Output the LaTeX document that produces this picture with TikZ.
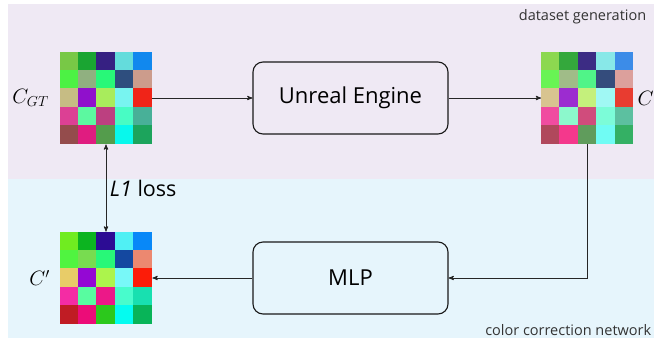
\documentclass[tikz,border=0pt]{standalone}
\usepackage{fontspec}
\setmainfont{Open Sans}
\usepackage{tikz}
\usetikzlibrary{arrows,positioning}

\definecolor{topbg}{HTML}{EFE9F4}
\definecolor{botbg}{HTML}{E6F5FC}

\begin{document}
\begin{tikzpicture}[x=1pt,y=-1pt,>=stealth',line width=0.9pt,
  grid node/.style={rectangle,inner sep=0pt,minimum size=92pt},
  box node/.style={rectangle,rounded corners=10pt,draw=black!90,line width=1.1pt,
    minimum width=195pt,minimum height=72pt,font=\fontsize{22}{26}\selectfont},
  sym node/.style={font=\fontsize{21}{25}\selectfont},
  tag node/.style={anchor=east,text=black!80,font=\fontsize{14.5}{17}\selectfont}]

  \useasboundingbox (0,0) rectangle (654,341);
  \fill[topbg] (8,4) rectangle (654,179);
  \fill[botbg] (8,179) rectangle (654,338);

  \node[grid node] (gt) at (106,98) {};
  \node[grid node] (c) at (587.5,98) {};
  \node[grid node] (cp) at (106,278) {};
  \node[box node] (ue) at (350.5,98) {Unreal Engine};
  \node[box node] (mlp) at (350.5,278) {MLP};

  \node[sym node,left=7pt of gt] (gtlabel) {$C_{GT}$};
  \node[sym node,right=0pt of c] (clabel) {$C$};
  \node[sym node,left=6pt of cp] (cplabel) {$C'$};
  \node[tag node] (dsgen) at (650,17) {dataset generation};
  \node[tag node] (ccnet) at (655,330) {color correction network};

  % colour patches
  \foreach \hex [count=\i from 0] in {78C846,1AA532,362082,64DCDC,1188EE,
      4CF244,90B080,28F878,2E4E7E,CC9C8C,
      C6BC84,9010CC,A8EC5C,78F4F0,F02418,
      DC4094,5CF8A0,BC4080,48FCC4,48B098,
      944C4C,E01C80,549C4C,08F8EC,1CA45C}{
    \pgfmathtruncatemacro{\r}{\i/5}
    \pgfmathtruncatemacro{\c}{mod(\i,5)}
    \definecolor{cell}{HTML}{\hex}
    \fill[cell] ([shift={(\c*18.4,\r*18.4)}]gt.north west) rectangle ++(18.4,18.4);
  }
  \foreach \hex [count=\i from 0] in {8CD850,34A83C,3C2C84,88E8E8,3C8CE8,
      68F454,A0BC88,50F488,344C7C,DCA09C,
      D8C490,9C2CD0,C4F07C,A0F8F4,E83C30,
      F04CA0,8CF8CC,D04C7C,7CFCD8,5CC0A0,
      B0485C,F4388C,609C5C,70FCF4,34B064}{
    \pgfmathtruncatemacro{\r}{\i/5}
    \pgfmathtruncatemacro{\c}{mod(\i,5)}
    \definecolor{cell}{HTML}{\hex}
    \fill[cell] ([shift={(\c*18.4,\r*18.4)}]c.north west) rectangle ++(18.4,18.4);
  }
  \foreach \hex [count=\i from 0] in {70EC20,0CB420,2C0C94,50F0F4,0888F8,
      50F440,78DC50,28F878,1448A0,EC8870,
      E8CC68,9408D4,ACF44C,78F8F8,FC1C08,
      F42CA4,58FCA0,EC1888,48FCCC,18E0B0,
      C01C24,EC0C78,2CC81C,04FCF0,08B458}{
    \pgfmathtruncatemacro{\r}{\i/5}
    \pgfmathtruncatemacro{\c}{mod(\i,5)}
    \definecolor{cell}{HTML}{\hex}
    \fill[cell] ([shift={(\c*18.4,\r*18.4)}]cp.north west) rectangle ++(18.4,18.4);
  }

  \path[->,draw=black!85]
    (gt) edge (ue)
    (ue) edge (c)
    (mlp) edge (cp)
    ;
  \draw[->,draw=black!85] (c) |- (mlp);
  \draw[<->,draw=black!85] (gt) -- node[right,font=\fontsize{21.5}{25}\selectfont] {\textit{L1} loss} (cp);

\end{tikzpicture}
\end{document}
